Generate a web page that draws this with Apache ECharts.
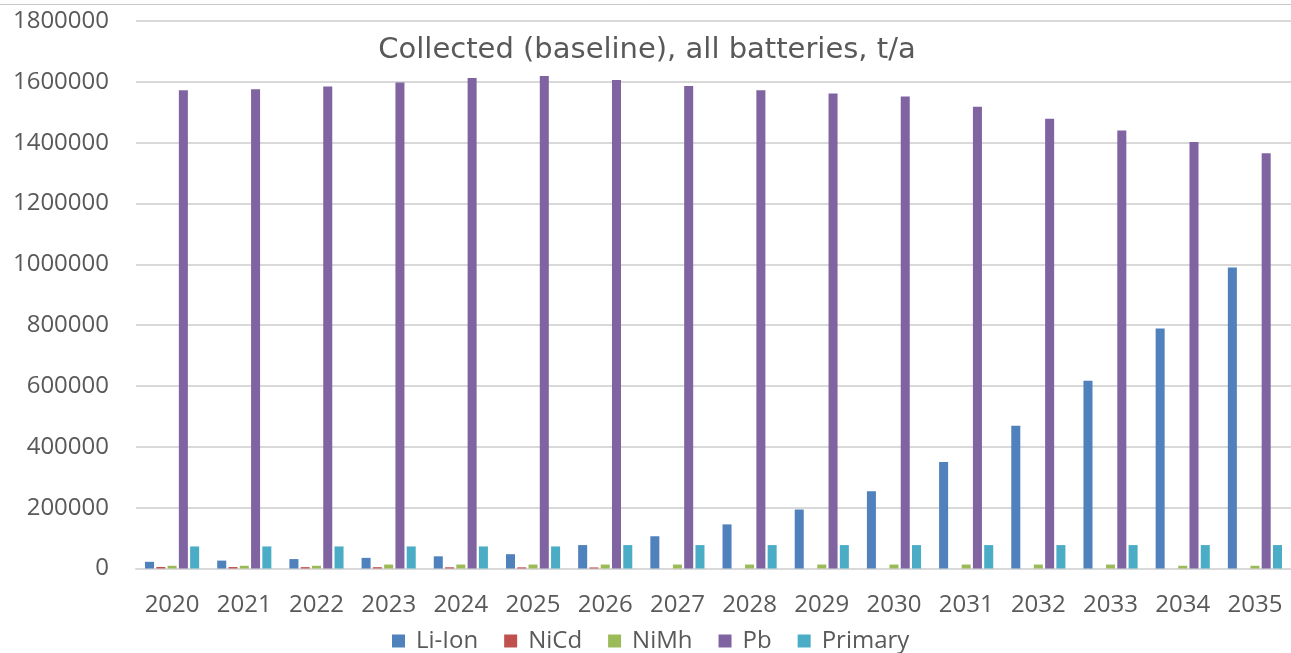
<!DOCTYPE html>
<html>
<head>
<meta charset="utf-8">
<script src="https://cdn.jsdelivr.net/npm/echarts@6/dist/echarts.min.js"></script>
<style>
  html, body { margin: 0; padding: 0; background: #fff; overflow: hidden; }
  #chart { width: 1291px; height: 653px; }
</style>
</head>
<body>
<div id="chart"></div>
<script>
// Collected batteries per chemistry, tonnes per year (baseline scenario)
const years = ['2020','2021','2022','2023','2024','2025','2026','2027','2028','2029','2030','2031','2032','2033','2034','2035'];
const liIon   = [22000, 26000, 31000, 35000, 40000, 47000, 77000, 106000, 145000, 194000, 254000, 350000, 469000, 617000, 789000, 990000];
const niCd    = [5000, 4800, 4500, 4300, 4000, 3800, 3500, 0, 0, 0, 0, 0, 0, 0, 0, 0];
const niMh    = [9000, 9000, 9000, 13000, 13000, 13000, 13000, 13000, 13000, 13000, 13000, 13000, 13000, 13000, 9000, 9000];
const pb      = [1572000, 1576000, 1585000, 1598000, 1613000, 1619000, 1606000, 1586000, 1572000, 1562000, 1552000, 1518000, 1479000, 1440000, 1402000, 1365000];
const primary = [72500, 72500, 72500, 72500, 72500, 72500, 77000, 77000, 77000, 77000, 77000, 77000, 77000, 77000, 77000, 77000];
const yTicks  = { min: 0, max: 1800000, step: 200000 };

const seriesDefs = [
  { name: 'Li-Ion',  data: liIon,   color: '#4f81bd' },
  { name: 'NiCd',    data: niCd,    color: '#c0504d' },
  { name: 'NiMh',    data: niMh,    color: '#9bbb59' },
  { name: 'Pb',      data: pb,      color: '#8064a2' },
  { name: 'Primary', data: primary, color: '#4bacc6' }
];

const textColor = '#595959';
const font = '"Open Sans", "Noto Sans", sans-serif';

const chart = echarts.init(document.getElementById('chart'), null, { renderer: 'canvas' });
chart.setOption({
  animation: false,
  backgroundColor: '#ffffff',
  textStyle: { fontFamily: font },
  title: {
    text: 'Collected (baseline), all batteries, t/a',
    left: 642, top: 31, textAlign: 'center',
    textStyle: { color: textColor, fontSize: 29, fontWeight: 'normal', fontFamily: '"DejaVu Sans", sans-serif' }
  },
  graphic: [{
    type: 'line', silent: true,
    shape: { x1: 0, y1: 4.5, x2: 1291, y2: 4.5 },
    style: { stroke: '#c8c8c8', lineWidth: 1 }
  }],
  legend: {
    data: seriesDefs.map(s => s.name),
    left: 392, top: 629, padding: 0,
    icon: 'rect', itemWidth: 13, itemHeight: 13, itemGap: 26,
    textStyle: { color: textColor, fontSize: 24, fontFamily: font, padding: [0, 0, 0, 6] }
  },
  grid: { left: 136, right: -8, top: 21, bottom: 84.5 },
  xAxis: {
    type: 'category',
    data: years,
    axisLine: { lineStyle: { color: '#d9d9d9', width: 2 } },
    axisTick: { show: false },
    axisLabel: { color: textColor, fontSize: 24, margin: 25, fontFamily: font, interval: 0 }
  },
  yAxis: {
    type: 'value',
    min: yTicks.min, max: yTicks.max, interval: yTicks.step,
    axisLine: { show: false },
    axisTick: { show: false },
    splitLine: { lineStyle: { color: '#d9d9d9', width: 2 } },
    axisLabel: { color: textColor, fontSize: 24, margin: 27, fontFamily: font, formatter: v => String(v) }
  },
  series: seriesDefs.map(s => ({
    name: s.name,
    type: 'bar',
    data: s.data,
    barGap: '25%',
    barCategoryGap: '25%',
    itemStyle: { color: s.color }
  }))
});
</script>
</body>
</html>
